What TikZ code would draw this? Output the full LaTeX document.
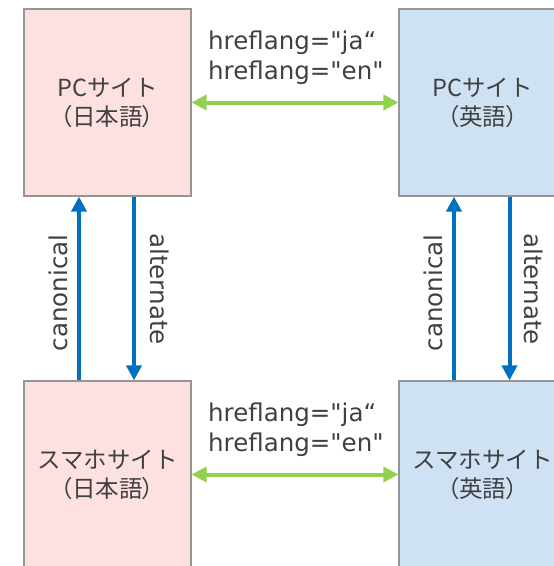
\documentclass[tikz,border=0pt]{standalone}
\usepackage{fontspec}
\setmainfont{DejaVu Sans}[Ligatures=TeXOff]
\newfontfamily\jpfont{Noto Sans CJK JP}
\newfontfamily\jpprop{Noto Sans CJK JP}[RawFeature=+palt]
\usetikzlibrary{arrows.meta}
\definecolor{pinkfill}{HTML}{FDE1E1}
\definecolor{bluefill}{HTML}{CFE2F3}
\definecolor{boxline}{HTML}{959595}
\definecolor{txt}{HTML}{404040}
\definecolor{linkgreen}{HTML}{92D050}
\definecolor{linkblue}{HTML}{0070C0}
\begin{document}
\begin{tikzpicture}[x=1pt,y=-1pt,
  site/.style={draw=boxline, line width=1.2pt, minimum width=167pt,
    minimum height=187pt, inner sep=0pt, text=txt, align=center,
    font=\jpfont\fontsize{23.5}{29}\selectfont},
  jasite/.style={site, fill=pinkfill},
  ensite/.style={site, fill=bluefill},
  lbl/.style={text=txt, inner sep=0pt, font=\fontsize{24.5}{30}\selectfont},
  hrefl/.style={lbl, align=left, anchor=west},
  langlink/.style={draw=linkgreen, line width=4pt,
    {Triangle[length=15pt,width=15pt]}-{Triangle[length=15pt,width=15pt]}},
  pagelink/.style={draw=linkblue, line width=4pt,
    -{Triangle[length=15pt,width=15pt]}}
]
\useasboundingbox (0,0) rectangle (554,566);

% site boxes
\node[jasite] (pcja) at (107.5,102.5) {PCサイト\\{\jpprop （日本語）}};
\node[ensite] (pcen) at (482.5,102.5) {PCサイト\\{\jpprop （英語）}};
\node[jasite] (spja) at (107.5,474.5) {スマホサイト\\{\jpprop （日本語）}};
\node[ensite] (spen) at (482.5,474.5) {スマホサイト\\{\jpprop （英語）}};

% hreflang links between languages
\draw[langlink] (pcja.east) -- (pcen.west);
\draw[langlink] (spja.east) -- (spen.west);
\node[hrefl] (hlpc) at (208,58) {hreflang="ja“\\hreflang="en"};
\node[hrefl] (hlsp) at (208,430) {hreflang="ja“\\hreflang="en"};

% canonical / alternate links between PC and smartphone pages
\draw[pagelink] ([xshift=-28.5pt]spja.north) -- ([xshift=-28.5pt]pcja.south);
\draw[pagelink] ([xshift=26.5pt]pcja.south) -- ([xshift=26.5pt]spja.north);
\draw[pagelink] ([xshift=-28.5pt]spen.north) -- ([xshift=-28.5pt]pcen.south);
\draw[pagelink] ([xshift=27pt]pcen.south) -- ([xshift=27pt]spen.north);

\node[lbl, rotate=90] (canja) at (58.5,293) {canonical};
\node[lbl, rotate=-90] (altja) at (159.5,289) {alternate};
\node[lbl, rotate=90] (canen) at (433.5,293) {canonical};
\node[lbl, rotate=-90] (alten) at (534,289) {alternate};
\end{tikzpicture}
\end{document}
